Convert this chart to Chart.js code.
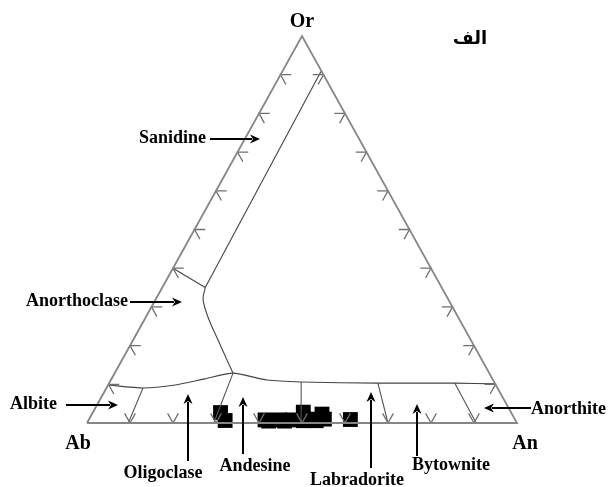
<!DOCTYPE html>
<html>
<head>
<meta charset="utf-8">
<script src="https://cdn.jsdelivr.net/npm/chart.js@4.4.1/dist/chart.umd.min.js"></script>
<style>
  html, body { margin: 0; padding: 0; background: #fff; }
  #wrap { width: 608px; height: 487px; }
</style>
</head>
<body>
<div id="wrap"><canvas id="Ternary-1"></canvas></div>
<script>
// all values in percent, Ab = 100 - An - Or
const cornerLabels = ['Ab', 'An', 'Or'];
const tickValues = [10, 20, 30, 40, 50, 60, 70, 80, 90];

// analysed feldspars
const sampleAn = [29.7, 31.8, 41.0, 42.0, 44.4, 45.7, 47.4, 48.9, 50.0, 51.5, 53.0, 53.5, 54.7, 60.8];
const sampleOr = [2.7, 0.65, 0.8, 0.5, 0.8, 0.5, 0.8, 2.8, 0.6, 1.0, 0.6, 2.3, 1.0, 0.9];

// field boundaries
const sanidineAn = [9.0, 10.0];
const sanidineOr = [91, 35];
const anorthoLeftAn = [0, 10.0];
const anorthoLeftOr = [40, 35];
const anorthoCurveAn = [10.0, 11.1, 15.1, 19.8, 24.4, 27.5];
const anorthoCurveOr = [35, 31.8, 26.6, 21.4, 16.3, 12.9];
const plagTopAn = [0, 8.5, 15.6, 21.7, 27.5, 36.3, 44.5, 62.5, 80.4, 89.9];
const plagTopOr = [9.8, 9.04, 9.8, 11.4, 12.9, 11.1, 10.6, 10.3, 10.3, 10.1];

// plagioclase subdivisions (top point, base point)
const splitAn = [[8.5, 9.6], [27.5, 29.5], [44.5, 49.8], [62.5, 70.0], [80.4, 90.5]];
const splitOr = [[9.04, 0], [12.9, 0], [10.6, 0], [10.3, 0], [10.3, 0]];

const fieldNames = ['Sanidine', 'Anorthoclase', 'Albite', 'Oligoclase', 'Andesine', 'Labradorite', 'Bytownite', 'Anorthite'];

// ternary -> cartesian
function tern(an, or) {
  return { x: an + or / 2, y: or };
}
function line(anArr, orArr) {
  return anArr.map((a, i) => tern(a, orArr[i]));
}

const TL = 2.5;
const tickPts = [];
tickValues.forEach(k => {
  // left side
  tickPts.push(tern(TL, k), tern(0, k), tern(TL, k - TL), { x: null, y: null });
  // base
  tickPts.push(tern(k - TL, TL), tern(k, 0), tern(k, TL), { x: null, y: null });
  // right side
  tickPts.push(tern(100 - k - TL, k), tern(100 - k, k), tern(100 - k, k - TL), { x: null, y: null });
});

const splitPts = [];
splitAn.forEach((s, i) => {
  splitPts.push(tern(s[0], splitOr[i][0]), tern(s[1], splitOr[i][1]), { x: null, y: null });
});

const lineStyle = (color, width) => ({
  showLine: true, pointRadius: 0, borderColor: color, borderWidth: width,
  spanGaps: false, tension: 0, fill: false
});

const labelFont = 'bold 18px "Liberation Serif", "Times New Roman", serif';
const cornerFont = 'bold 20px "Liberation Serif", "Times New Roman", serif';

// text + arrows, placed in canvas pixels
const notes = [
  { text: fieldNames[0], x: 206, y: 138, align: 'right', arrow: [210, 139, 260, 139] },
  { text: fieldNames[1], x: 128, y: 301, align: 'right', arrow: [130, 302, 182, 302] },
  { text: fieldNames[2], x: 10, y: 404, align: 'left', arrow: [66, 405, 118, 405] },
  { text: fieldNames[3], x: 163, y: 473, align: 'center', arrow: [188, 461, 188, 394] },
  { text: fieldNames[4], x: 255, y: 466, align: 'center', arrow: [243, 454, 243, 397] },
  { text: fieldNames[5], x: 357, y: 480, align: 'center', arrow: [371, 468, 371, 392] },
  { text: fieldNames[6], x: 451, y: 465, align: 'center', arrow: [417, 456, 417, 404] },
  { text: fieldNames[7], x: 531, y: 409, align: 'left', arrow: [531, 408, 484, 408] }
];

function drawArrow(ctx, x1, y1, x2, y2) {
  const ang = Math.atan2(y2 - y1, x2 - x1);
  const hl = 10, hw = 4.5;
  ctx.beginPath();
  ctx.moveTo(x1, y1);
  ctx.lineTo(x2 - Math.cos(ang) * hl * 0.8, y2 - Math.sin(ang) * hl * 0.8);
  ctx.lineWidth = 2;
  ctx.strokeStyle = '#000';
  ctx.stroke();
  ctx.beginPath();
  ctx.moveTo(x2, y2);
  ctx.lineTo(x2 - Math.cos(ang) * hl - Math.sin(ang) * hw, y2 - Math.sin(ang) * hl + Math.cos(ang) * hw);
  ctx.lineTo(x2 - Math.cos(ang) * hl * 0.7, y2 - Math.sin(ang) * hl * 0.7);
  ctx.lineTo(x2 - Math.cos(ang) * hl + Math.sin(ang) * hw, y2 - Math.sin(ang) * hl - Math.cos(ang) * hw);
  ctx.closePath();
  ctx.fillStyle = '#000';
  ctx.fill();
}

const labelsPlugin = {
  id: 'ternaryLabels',
  beforeDraw(chart) {
    const ctx = chart.ctx;
    ctx.save();
    ctx.fillStyle = '#fff';
    ctx.fillRect(0, 0, chart.width, chart.height);
    ctx.restore();
  },
  afterDatasetsDraw(chart) {
    const ctx = chart.ctx;
    const xs = chart.scales.x, ys = chart.scales.y;
    ctx.save();
    ctx.fillStyle = '#000';
    ctx.textBaseline = 'middle';
    // corner labels from the triangle corners
    ctx.font = cornerFont;
    ctx.textAlign = 'center';
    ctx.fillText(cornerLabels[0], xs.getPixelForValue(0) - 9, ys.getPixelForValue(0) + 21);
    ctx.fillText(cornerLabels[1], xs.getPixelForValue(100) + 8, ys.getPixelForValue(0) + 21);
    ctx.fillText(cornerLabels[2], xs.getPixelForValue(50), ys.getPixelForValue(100) - 14);
    ctx.font = 'bold 18px "DejaVu Sans", sans-serif';
    ctx.fillText('الف', 470, 39);
    ctx.font = labelFont;
    notes.forEach(n => {
      ctx.textAlign = n.align;
      ctx.fillStyle = '#000';
      ctx.fillText(n.text, n.x, n.y);
      drawArrow(ctx, n.arrow[0], n.arrow[1], n.arrow[2], n.arrow[3]);
    });
    ctx.restore();
  }
};

const ctxT = document.getElementById('Ternary-1');

const Ternary_1 = new Chart(ctxT, {
  type: 'scatter',
  data: {
    datasets: [{
      label: 'frame',
      data: line([0, 100, 0, 0], [0, 0, 100, 0]),
      ...lineStyle('#858585', 1.8)
    }, {
      label: 'ticks',
      data: tickPts,
      ...lineStyle('#6f6f6f', 1.3)
    }, {
      label: 'sanidine',
      data: line(sanidineAn, sanidineOr),
      ...lineStyle('#444', 1.1)
    }, {
      label: 'anorthoclase',
      data: line(anorthoLeftAn, anorthoLeftOr),
      ...lineStyle('#444', 1.1)
    }, {
      label: 'anorthoclase-curve',
      data: line(anorthoCurveAn, anorthoCurveOr),
      ...lineStyle('#444', 1.1),
      tension: 0.35
    }, {
      label: 'plagioclase',
      data: line(plagTopAn, plagTopOr),
      ...lineStyle('#444', 1.1),
      tension: 0.2
    }, {
      label: 'subdivisions',
      data: splitPts,
      ...lineStyle('#555', 1.1)
    }, {
      label: 'samples',
      data: line(sampleAn, sampleOr),
      pointStyle: 'rect',
      pointRadius: 10.5,
      pointHoverRadius: 10.5,
      backgroundColor: '#000',
      borderColor: '#000',
      borderWidth: 0,
      showLine: false
    }]
  },
  options: {
    responsive: true,
    maintainAspectRatio: false,
    animation: false,
    events: [],
    layout: { padding: 0, autoPadding: false },
    plugins: {
      legend: { display: false },
      tooltip: { enabled: false }
    },
    scales: {
      x: { type: 'linear', display: false, min: -20.233, max: 121.163 },
      y: { type: 'linear', display: false, min: -16.537, max: 109.302 }
    }
  },
  plugins: [labelsPlugin]
});
</script>
</body>
</html>
